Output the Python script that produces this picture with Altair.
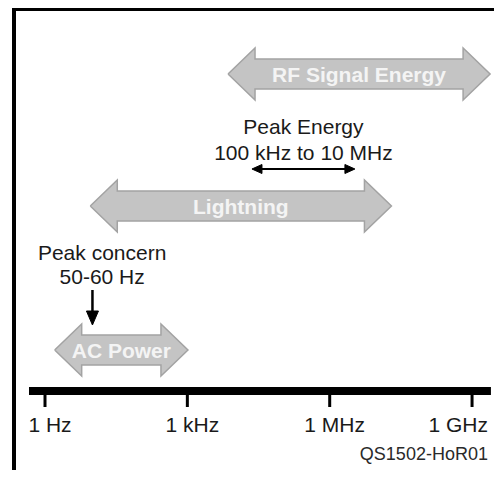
import altair as alt
import numpy as np
import pandas as pd

# ---------------- data ----------------
band_names = ["RF Signal Energy", "Lightning", "AC Power"]
band_low_hz = [7.2e3, 9.0, 1.6]          # left arrow tip
band_high_hz = [2.4e9, 2.0e7, 1.03e3]    # right arrow tip

tick_hz = [1, 1e3, 1e6, 1e9]
tick_labels = ["1 Hz", "1 kHz", "1 MHz", "1 GHz"]
axis_span_hz = [0.46, 2.5e9]

peak_energy_lines = ["Peak Energy", "100 kHz to 10 MHz"]
peak_energy_span_hz = [2.3e4, 3.4e6]

peak_concern_lines = ["Peak concern", "50-60 Hz"]
peak_concern_text_hz = 16
peak_concern_arrow_hz = 10

figure_code = "QS1502-HoR01"

# ---------------- layout / style ----------------
W, H = 486, 462
PX_PER_DEC = 47.45
X_ORIGIN = 37                      # pixel of 1 Hz in plot
LOG_MIN = -X_ORIGIN / PX_PER_DEC
LOG_MAX = (W - X_ORIGIN) / PX_PER_DEC

lane_y = {"RF Signal Energy": 66, "Lightning": 198, "AC Power": 342}
HEAD_HALF, BODY_HALF, HEAD_LEN = 26, 15, 27
PE_Y, PE_TEXT_Y = 161, [126, 152]
PC_TEXT_Y = [252, 276]
PC_ARROW_Y = [282, 317]
AXIS_Y, TICK_Y2, TICK_LABEL_Y, CODE_Y = 383, 399, 424, 452

FONT = "Liberation Sans"
FS = 21
ARROW_FILL, ARROW_STROKE = "#c4c4c4", "#a3a3a3"
TEXT_COLOR = "#1a1a1a"


def dlog(px):
    return px / PX_PER_DEC


def poly_rows(name, pts):
    return [{"shape": name, "i": k, "hz": 10 ** x, "y": y} for k, (x, y) in enumerate(pts)]


# big grey double arrows
big_rows = []
for name, lo_hz, hi_hz in zip(band_names, band_low_hz, band_high_hz):
    lo, hi, c = np.log10(lo_hz), np.log10(hi_hz), lane_y[name]
    h = dlog(HEAD_LEN)
    pts = [(lo, c), (lo + h, c - HEAD_HALF), (lo + h, c - BODY_HALF),
           (hi - h, c - BODY_HALF), (hi - h, c - HEAD_HALF), (hi, c),
           (hi - h, c + HEAD_HALF), (hi - h, c + BODY_HALF),
           (lo + h, c + BODY_HALF), (lo + h, c + HEAD_HALF), (lo, c)]
    big_rows += poly_rows(name, pts)
big_df = pd.DataFrame(big_rows)

# small black arrow heads
pe_lo, pe_hi = np.log10(peak_energy_span_hz[0]), np.log10(peak_energy_span_hz[1])
sh = dlog(10)
head_rows = []
head_rows += poly_rows("pe_left", [(pe_lo, PE_Y), (pe_lo + sh, PE_Y - 4.5), (pe_lo + sh, PE_Y + 4.5), (pe_lo, PE_Y)])
head_rows += poly_rows("pe_right", [(pe_hi, PE_Y), (pe_hi - sh, PE_Y - 4.5), (pe_hi - sh, PE_Y + 4.5), (pe_hi, PE_Y)])
pc = np.log10(peak_concern_arrow_hz)
head_rows += poly_rows("pc_down", [(pc, PC_ARROW_Y[1]), (pc - dlog(6), PC_ARROW_Y[1] - 14),
                                   (pc + dlog(6), PC_ARROW_Y[1] - 14), (pc, PC_ARROW_Y[1])])
head_df = pd.DataFrame(head_rows)

xscale = alt.Scale(type="log", domain=[10 ** LOG_MIN, 10 ** LOG_MAX], nice=False, zero=False)
yscale = alt.Scale(domain=[0, H], reverse=True, nice=False, zero=False)
X = lambda f: alt.X(f, type="quantitative", scale=xscale, axis=None)
Y = lambda f: alt.Y(f, type="quantitative", scale=yscale, axis=None)

one = pd.DataFrame({"a": [0]})

border_left = alt.Chart(one).mark_rule(color="black", strokeWidth=4).encode(
    x=alt.value(6), y=alt.value(0), y2=alt.value(H))
border_top = alt.Chart(one).mark_rule(color="black", strokeWidth=3).encode(
    x=alt.value(4), x2=alt.value(W), y=alt.value(1.5))

arrows = alt.Chart(big_df).mark_line(fill=ARROW_FILL, stroke=ARROW_STROKE, strokeWidth=1.5,
                                     strokeJoin="miter").encode(
    x=X("hz"), y=Y("y"), order=alt.Order("i:Q"), detail="shape:N")

label_df = pd.DataFrame({
    "text": band_names,
    "hz": [10 ** ((np.log10(a) + np.log10(b)) / 2) for a, b in zip(band_low_hz, band_high_hz)],
    "y": [lane_y[n] for n in band_names],
})
arrow_labels = alt.Chart(label_df).mark_text(font=FONT, fontSize=FS, fontWeight="bold",
                                             color="#f4f4f4", baseline="alphabetic", dy=7.5).encode(
    x=X("hz"), y=Y("y"), text="text:N")

heads = alt.Chart(head_df).mark_line(fill="black", stroke="black", strokeWidth=1).encode(
    x=X("hz"), y=Y("y"), order=alt.Order("i:Q"), detail="shape:N")

pe_line_df = pd.DataFrame({"hz": [10 ** (pe_lo + sh * 0.8)], "hz2": [10 ** (pe_hi - sh * 0.8)], "y": [PE_Y]})
pe_line = alt.Chart(pe_line_df).mark_rule(color="black", strokeWidth=2).encode(
    x=X("hz"), x2="hz2", y=Y("y"))

pc_line_df = pd.DataFrame({"hz": [peak_concern_arrow_hz], "y": [PC_ARROW_Y[0]], "y2": [PC_ARROW_Y[1] - 12]})
pc_line = alt.Chart(pc_line_df).mark_rule(color="black", strokeWidth=2.5).encode(
    x=X("hz"), y=Y("y"), y2="y2")

note_df = pd.DataFrame({
    "text": peak_energy_lines + peak_concern_lines,
    "hz": [10 ** ((pe_lo + pe_hi) / 2)] * 2 + [peak_concern_text_hz] * 2,
    "y": PE_TEXT_Y + PC_TEXT_Y,
})
notes = alt.Chart(note_df).mark_text(font=FONT, fontSize=FS, color=TEXT_COLOR,
                                     baseline="alphabetic").encode(
    x=X("hz"), y=Y("y"), text="text:N")

axis_df = pd.DataFrame({"hz": [axis_span_hz[0]], "hz2": [axis_span_hz[1]], "y": [AXIS_Y]})
axis_line = alt.Chart(axis_df).mark_rule(color="black", strokeWidth=8, strokeCap="butt").encode(
    x=X("hz"), x2="hz2", y=Y("y"))

tick_df = pd.DataFrame({"hz": tick_hz, "label": tick_labels, "y": [AXIS_Y] * 4, "y2": [TICK_Y2] * 4,
                        "ly": [TICK_LABEL_Y] * 4})
ticks = alt.Chart(tick_df).mark_rule(color="black", strokeWidth=3).encode(
    x=X("hz"), y=Y("y"), y2="y2")
tick_text = alt.Chart(tick_df.iloc[:3]).mark_text(font=FONT, fontSize=FS, color=TEXT_COLOR,
                                                  baseline="alphabetic", dx=5).encode(
    x=X("hz"), y=Y("ly"), text="label:N")
last_df = pd.DataFrame({"hz": [axis_span_hz[1]], "label": [tick_labels[-1]], "ly": [TICK_LABEL_Y]})
tick_text_last = alt.Chart(last_df).mark_text(font=FONT, fontSize=FS, color=TEXT_COLOR, align="right",
                                              baseline="alphabetic", dx=-3).encode(
    x=X("hz"), y=Y("ly"), text="label:N")

code_df = pd.DataFrame({"hz": [axis_span_hz[1]], "text": [figure_code], "y": [CODE_Y]})
code_text = alt.Chart(code_df).mark_text(font=FONT, fontSize=18, color="#2a2a2a", align="right",
                                         baseline="alphabetic", dx=-3).encode(
    x=X("hz"), y=Y("y"), text="text:N")

chart = alt.layer(
    border_left, border_top, arrows, arrow_labels, heads, pe_line, pc_line, notes,
    axis_line, ticks, tick_text, tick_text_last, code_text,
).properties(
    width=W, height=H, padding=0, autosize=alt.AutoSizeParams(type="none"), background="white",
).configure_view(stroke=None)

chart.save("out.html", embed_options={"renderer": "svg", "actions": False})
